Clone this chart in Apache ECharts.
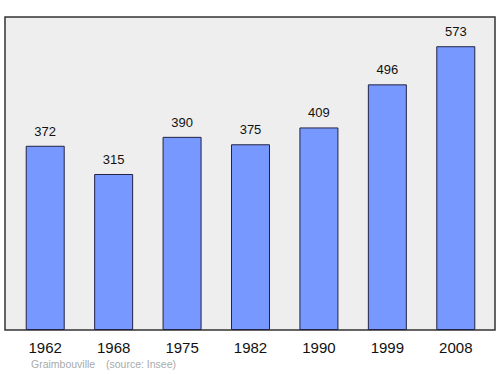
<!DOCTYPE html>
<html><head><meta charset="utf-8">
<script src="https://cdn.jsdelivr.net/npm/echarts@6/dist/echarts.min.js"></script>
<style>html,body{margin:0;padding:0;background:#fff}#c{width:500px;height:374px}</style>
</head><body><div id="c"></div>
<script>
const years = ['1962','1968','1975','1982','1990','1999','2008'];
const population = [372, 315, 390, 375, 409, 496, 573];
const commune = 'Graimbouville';
const source = '(source: Insee)';

const chart = echarts.init(document.getElementById('c'), null, {renderer:'svg'});
chart.setOption({
  animation: false,
  grid: [
    {left: 5, right: 5, top: 17, bottom: 44, show: true, backgroundColor: '#eeeeee', borderColor: '#333333', borderWidth: 1.5, z: 0},
    {left: 11, right: 10, top: 17, bottom: 44}
  ],
  xAxis: [
    {gridIndex: 0, type: 'value', show: false, min: 0, max: 1},
    {gridIndex: 1, type: 'category', data: years,
     axisLine: {show: false}, axisTick: {show: false},
     axisLabel: {color: '#111', fontSize: 15, fontFamily: 'Liberation Sans', margin: 10}}
  ],
  yAxis: [
    {gridIndex: 0, type: 'value', show: false, min: 0, max: 1},
    {gridIndex: 1, type: 'value', min: 0, max: 632, show: false}
  ],
  series: [{
    type: 'bar', xAxisIndex: 1, yAxisIndex: 1, data: population,
    barWidth: 39,
    itemStyle: {color: '#7799ff', borderColor: '#222244', borderWidth: 1},
    label: {show: true, position: 'top', distance: 8, color: '#111', fontSize: 13, fontFamily: 'Liberation Sans'}
  }],
  graphic: [
    {type: 'text', left: 31, top: 358, style: {text: commune, fill: '#aaaaaa', fontSize: 10.5, fontFamily: 'Liberation Sans'}},
    {type: 'text', left: 106, top: 358, style: {text: source, fill: '#aaaaaa', fontSize: 10.5, fontFamily: 'Liberation Sans'}}
  ]
});
</script></body></html>
